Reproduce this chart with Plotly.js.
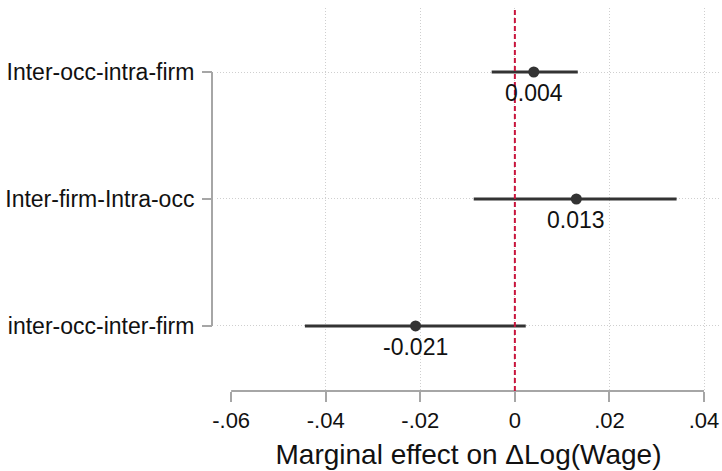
<!DOCTYPE html>
<html>
<head>
<meta charset="utf-8">
<script src="https://cdn.plot.ly/plotly-3.0.1.min.js"></script>
<style>html,body{margin:0;padding:0;background:#fff;}#chart{width:722px;height:471px;}</style>
</head>
<body>
<div id="chart"></div>
<script>
// Data (bottom to top)
const categories = ['inter-occ-inter-firm', 'Inter-firm-Intra-occ', 'Inter-occ-intra-firm'];
const estimates = [-0.021, 0.013, 0.004];
const ciLow = [-0.0444, -0.0087, -0.0049];
const ciHigh = [0.0023, 0.0342, 0.0133];
const pointLabels = ['-0.021', '0.013', '0.004'];
const xTickVals = [-0.06, -0.04, -0.02, 0, 0.02, 0.04];
const xTickText = ['-.06', '-.04', '-.02', '0', '.02', '.04'];
const xGridVals = [-0.04, -0.02, 0, 0.02, 0.04];

const yPos = categories.map((c, i) => i);
const font = 'Liberation Sans, Arial, Helvetica, sans-serif';
const axisGray = '#a6a6a6';
const gridGray = '#cfcfcf';

const trace = {
  type: 'scatter',
  mode: 'markers',
  x: estimates,
  y: yPos,
  marker: {size: 11, color: '#333333'},
  error_x: {
    type: 'data', symmetric: false,
    array: estimates.map((e, i) => ciHigh[i] - e),
    arrayminus: estimates.map((e, i) => e - ciLow[i]),
    color: '#333333', thickness: 3, width: 0
  },
  hoverinfo: 'skip',
  cliponaxis: false,
  showlegend: false
};

const annotations = estimates.map((e, i) => ({
  x: e, y: yPos[i], xref: 'x', yref: 'y',
  text: pointLabels[i], showarrow: false,
  yshift: -21, font: {family: font, size: 23, color: '#111'}
}));

const xRange = [-0.06299, 0.04338];
const layout = {
  width: 722, height: 471,
  margin: {l: 212, r: 2, t: 8, b: 80},
  paper_bgcolor: '#fff', plot_bgcolor: '#fff',
  font: {family: font, size: 22, color: '#111'},
  xaxis: {
    domain: [5/508, 1],
    range: xRange,
    tickvals: xTickVals, ticktext: xTickText,
    showgrid: false, zeroline: false, showline: false,
    ticks: 'outside', ticklen: 10, tickwidth: 2, tickcolor: axisGray,
    tickfont: {family: font, size: 22, color: '#111'},
    title: {text: 'Marginal effect on ΔLog(Wage)', font: {family: font, size: 28, color: '#111'}, standoff: 11},
    automargin: false
  },
  xaxis2: {
    domain: [5/508, 1],
    range: xRange, overlaying: 'x', anchor: 'y',
    tickvals: xGridVals, showticklabels: false, ticks: '',
    showgrid: true, gridcolor: gridGray, gridwidth: 1, griddash: '1px,2px',
    zeroline: false, showline: false
  },
  yaxis: {
    range: [-0.512, 2.504],
    tickvals: yPos, ticktext: categories,
    anchor: 'free', position: 0,
    showgrid: true, gridcolor: gridGray, gridwidth: 1, griddash: '1px,2px',
    zeroline: false, showline: false,
    ticks: 'outside', ticklen: 10, tickwidth: 2, tickcolor: axisGray,
    tickfont: {family: font, size: 23, color: '#111'},
    ticklabelstandoff: 3,
    automargin: false
  },
  annotations: annotations,
  shapes: [
    {type: 'line', xref: 'x', yref: 'paper', x0: xTickVals[0], x1: xTickVals[xTickVals.length - 1], y0: 0, y1: 0,
     line: {color: axisGray, width: 2}},
    {type: 'line', xref: 'paper', yref: 'y', x0: 0, x1: 0, y0: yPos[0], y1: yPos[yPos.length - 1],
     line: {color: axisGray, width: 2}},
    {type: 'line', xref: 'x', yref: 'paper', x0: 0, x1: 0, y0: 0, y1: 1,
     line: {color: '#c8143c', width: 2, dash: '5px,3px'}}
  ]
};

// empty trace so the overlay axis (grid only) is drawn
const gridTrace = {type: 'scatter', x: [], y: [], xaxis: 'x2', yaxis: 'y', showlegend: false, hoverinfo: 'skip'};

Plotly.newPlot('chart', [gridTrace, trace], layout, {staticPlot: true});
</script>
</body>
</html>
